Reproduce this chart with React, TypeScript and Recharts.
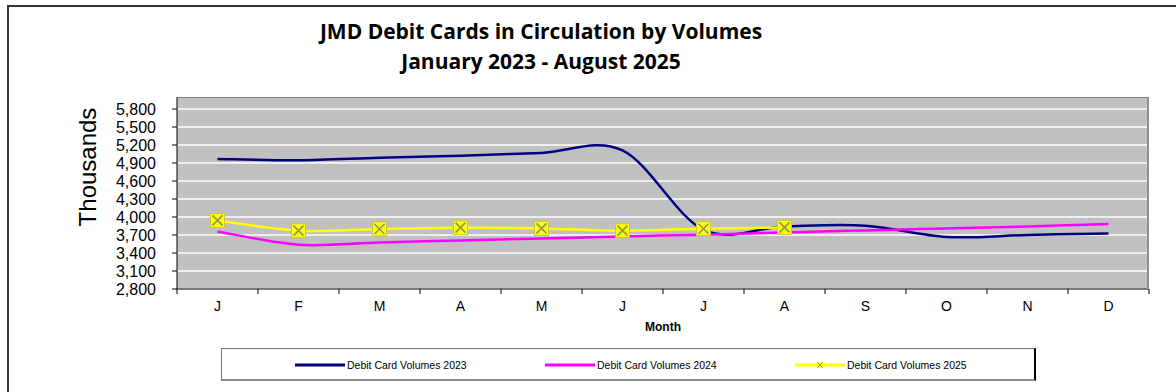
import { LineChart, Line, XAxis, YAxis, CartesianGrid } from 'recharts';

const months = ['Jan', 'Feb', 'Mar', 'Apr', 'May', 'Jun', 'Jul', 'Aug', 'Sep', 'Oct', 'Nov', 'Dec'];
const monthLabels = ['J', 'F', 'M', 'A', 'M', 'J', 'J', 'A', 'S', 'O', 'N', 'D'];

const vol2023 = [4967, 4945, 4988, 5022, 5067, 5110, 3788, 3843, 3855, 3667, 3700, 3727];
const vol2024 = [3760, 3538, 3577, 3610, 3643, 3677, 3705, 3743, 3777, 3810, 3843, 3883];
const vol2025 = [3943, 3772, 3800, 3822, 3810, 3772, 3805, 3827];

const yTicks = [2800, 3100, 3400, 3700, 4000, 4300, 4600, 4900, 5200, 5500, 5800];

const series = [
  { key: 'v2023', name: 'Debit Card Volumes 2023', color: '#000080' },
  { key: 'v2024', name: 'Debit Card Volumes 2024', color: '#FF00FF' },
  { key: 'v2025', name: 'Debit Card Volumes 2025', color: '#FFFF00', marker: true },
];

const data = months.map((m, i) => ({
  month: m,
  v2023: vol2023[i] ?? null,
  v2024: vol2024[i] ?? null,
  v2025: vol2025[i] ?? null,
}));

const W = 1176;
const H = 392;
const PLOT_LEFT = 177;
const PLOT_RIGHT = 1149;
const PLOT_TOP = 97;
const PLOT_BOTTOM = 289;
const HALF_STEP = (PLOT_RIGHT - PLOT_LEFT) / months.length / 2;

const FONT = '"Liberation Sans", Arial, sans-serif';

// Excel style smoothed line (bezier with 1/6 tangents)
function excelCurve(context: any) {
  let pts: number[][] = [];
  return {
    areaStart() {},
    areaEnd() {},
    lineStart() {
      pts = [];
    },
    point(x: number, y: number) {
      pts.push([+x, +y]);
    },
    lineEnd() {
      if (!pts.length) return;
      context.moveTo(pts[0][0], pts[0][1]);
      for (let i = 0; i < pts.length - 1; i++) {
        const p0 = pts[Math.max(i - 1, 0)];
        const p1 = pts[i];
        const p2 = pts[i + 1];
        const p3 = pts[Math.min(i + 2, pts.length - 1)];
        context.bezierCurveTo(
          p1[0] + (p2[0] - p0[0]) / 6,
          p1[1] + (p2[1] - p0[1]) / 6,
          p2[0] - (p3[0] - p1[0]) / 6,
          p2[1] - (p3[1] - p1[1]) / 6,
          p2[0],
          p2[1]
        );
      }
    },
  };
}

function MonthTick(props: any) {
  const { x, y, index, visibleTicksCount } = props;
  return (
    <g>
      <line x1={x - HALF_STEP} x2={x - HALF_STEP} y1={y} y2={y + 5} stroke="#000" />
      {index === visibleTicksCount - 1 && (
        <line x1={x + HALF_STEP} x2={x + HALF_STEP} y1={y} y2={y + 5} stroke="#000" />
      )}
      <text x={x} y={y + 22} textAnchor="middle" fontSize={14} fontFamily={FONT} fill="#000">
        {monthLabels[index]}
      </text>
    </g>
  );
}

function XMarker(props: any) {
  const { cx, cy, value } = props;
  if (value == null || cx == null) return null;
  const s = 7;
  return (
    <g>
      <rect x={cx - s} y={cy - s} width={s * 2} height={s * 2} fill="#FFFF00" stroke="#C8C840" strokeWidth={1} />
      <line x1={cx - s + 2} y1={cy - s + 2} x2={cx + s - 2} y2={cy + s - 2} stroke="#8E9A4A" strokeWidth={1.6} />
      <line x1={cx - s + 2} y1={cy + s - 2} x2={cx + s - 2} y2={cy - s + 2} stroke="#8E9A4A" strokeWidth={1.6} />
    </g>
  );
}

export default function App() {
  return (
    <div style={{ position: 'absolute', left: 0, top: 0, width: W, height: H, background: '#fff', overflow: 'hidden', fontFamily: FONT }}>
      {/* outer chart frame */}
      <div style={{ position: 'absolute', left: 7, top: 5, width: W + 20, height: H + 20, borderLeft: '2px solid #333', borderTop: '2px solid #333' }} />

      <div style={{ position: 'absolute', left: 241, top: 16, width: 600, textAlign: 'center', fontFamily: '"Open Sans", sans-serif', fontWeight: 700, fontSize: 21, lineHeight: '30px', color: '#000' }}>
        <div>JMD Debit Cards in Circulation by Volumes</div>
        <div>January 2023 - August 2025</div>
      </div>

      <div style={{ position: 'absolute', left: 88, top: 167, transform: 'translate(-50%, -50%) rotate(-90deg)', fontSize: 24, whiteSpace: 'nowrap', color: '#000' }}>
        Thousands
      </div>

      <div style={{ position: 'absolute', left: 0, top: 0 }}>
        <LineChart width={W} height={H} data={data} margin={{ top: PLOT_TOP, right: W - PLOT_RIGHT, left: PLOT_LEFT - 60, bottom: H - PLOT_BOTTOM - 45 }}>
          <CartesianGrid vertical={false} stroke="#FFFFFF" strokeWidth={1.5} fill="#C0C0C0" fillOpacity={1} />
          <XAxis
            dataKey="month"
            height={45}
            interval={0}
            padding={{ left: HALF_STEP, right: HALF_STEP }}
            tickSize={0}
            tickMargin={0}
            tickLine={false}
            axisLine={{ stroke: '#000' }}
            tick={<MonthTick />}
            label={{ value: 'Month', position: 'insideBottom', offset: 3, fontSize: 12, fontWeight: 700, fill: '#000', fontFamily: FONT }}
          />
          <YAxis
            width={60}
            domain={[2800, 6000]}
            ticks={yTicks}
            interval={0}
            tickSize={5}
            tickMargin={16}
            tickLine={{ stroke: '#000' }}
            axisLine={{ stroke: '#000' }}
            tick={{ fontSize: 16, fill: '#000', fontFamily: FONT }}
            tickFormatter={(v: number) => v.toLocaleString('en-US')}
          />
          {series.map((s) => (
            <Line
              key={s.key}
              dataKey={s.key}
              name={s.name}
              type={excelCurve as any}
              stroke={s.color}
              strokeWidth={2.5}
              dot={s.marker ? <XMarker /> : false}
              activeDot={false}
              isAnimationActive={false}
            />
          ))}
        </LineChart>
      </div>

      {/* plot area border */}
      <div style={{ position: 'absolute', left: PLOT_LEFT, top: PLOT_TOP, width: PLOT_RIGHT - PLOT_LEFT, height: PLOT_BOTTOM - PLOT_TOP, borderTop: '1px solid #808080', borderRight: '2px solid #909090', boxSizing: 'border-box', pointerEvents: 'none' }} />

      {/* legend */}
      <div style={{ position: 'absolute', left: 221, top: 348, width: 815, height: 33, boxSizing: 'border-box', borderTop: '1px solid #777', borderLeft: '1px solid #777', borderRight: '2px solid #000', borderBottom: '2px solid #888', background: '#fff' }}>
        {series.map((s, i) => (
          <div key={s.key} style={{ position: 'absolute', left: 73 + i * 250, top: 0, height: 31, display: 'flex', alignItems: 'center' }}>
            <svg width={50} height={10} style={{ display: 'block' }}>
              <line x1={0} x2={50} y1={5} y2={5} stroke={s.color} strokeWidth={3} />
              {s.marker && (
                <g>
                  <rect x={22} y={2} width={6} height={6} fill="#FFFF00" />
                  <line x1={22.5} y1={2.5} x2={27.5} y2={7.5} stroke="#8E9A4A" strokeWidth={1} />
                  <line x1={22.5} y1={7.5} x2={27.5} y2={2.5} stroke="#8E9A4A" strokeWidth={1} />
                </g>
              )}
            </svg>
            <span style={{ marginLeft: 2, fontSize: 10.5, color: '#000', whiteSpace: 'nowrap' }}>{s.name}</span>
          </div>
        ))}
      </div>
    </div>
  );
}
